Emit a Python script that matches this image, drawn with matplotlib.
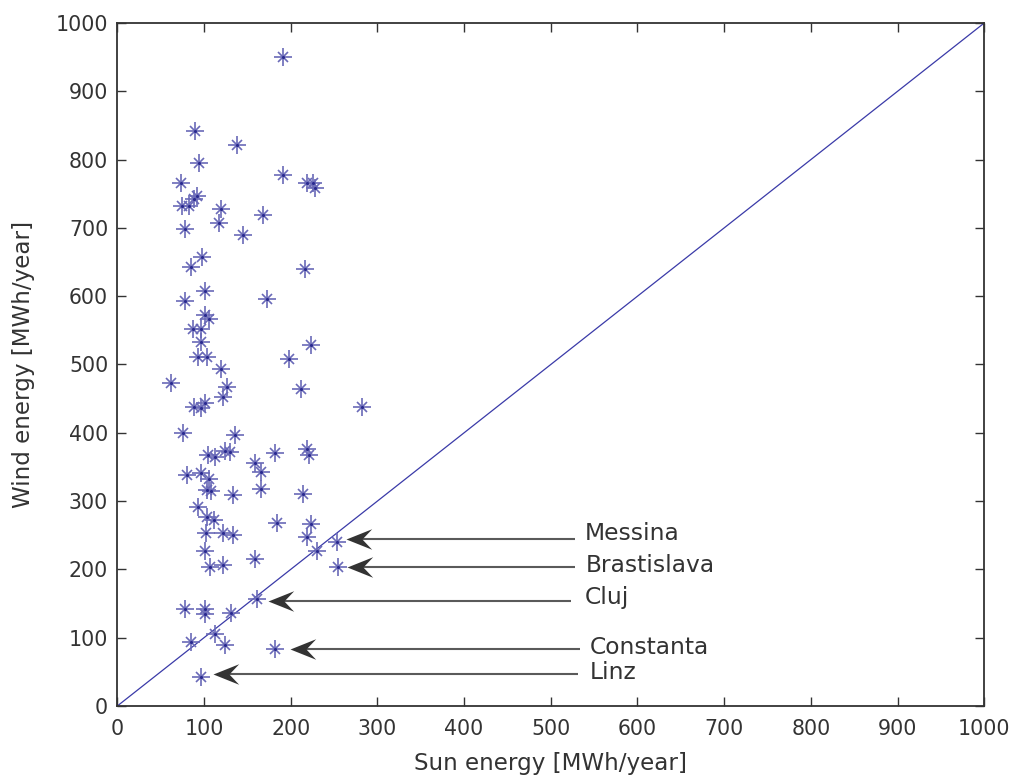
import matplotlib
matplotlib.use("Agg")
import matplotlib.pyplot as plt
from matplotlib.path import Path

plt.rcParams['font.family'] = ['DejaVu Sans']

sun = [191, 89.6, 138, 94, 73.5, 191, 219, 226, 228, 91.6, 88.5, 75, 82.3, 119.6, 168,
       117.3, 77.7, 145, 97.2, 85, 216.5, 101, 77.7, 172.7, 101, 105.8, 87, 97, 97, 224,
       93.5, 103.5, 198, 119.6, 62.3, 126.5, 212, 122, 101, 89, 97, 282, 75.8, 135.4,
       104.6, 112.3, 124, 129.6, 181.5, 219, 221, 158.5, 166, 80.4, 96.2, 105.4, 103.8,
       107.7, 166, 133.5, 214, 93.5, 103.8, 111, 184, 223, 102.6, 122, 133.5, 219, 230.6,
       101.5, 158.5, 107.3, 122, 161.5, 77.7, 101.5, 101.5, 131.5, 84.6, 112.3, 124.6,
       181.5, 97, 254, 255]
wind = [950, 842, 821, 795, 765, 778, 766, 766, 759, 747, 743, 731.6, 731.6, 728, 719,
        707.6, 698, 689, 658, 642, 640, 608, 593, 596, 572.5, 567, 551.5, 551.5, 533, 528.5,
        510.5, 510.5, 508, 493, 472.5, 467.5, 463.7, 453, 443, 438, 436, 438, 400, 396.8,
        367.5, 364, 374, 371.5, 371, 376, 367.5, 356, 342, 338, 340.7, 332, 316,
        315, 317, 309, 311, 291, 276, 273, 268, 266, 253, 253, 250, 247, 227.4,
        227.4, 214.8, 203.5, 206.4, 156, 142, 142, 134, 135.7, 94, 105.4, 89.3,
        83, 42, 239.7, 203]

diag = [0, 1000]

city_names = ['Messina', 'Brastislava', 'Cluj', 'Constanta', 'Linz']
arrow_tip_x = [264, 265.5, 174, 199, 110]
arrow_y = [244.6, 203, 154, 83, 46.4]
arrow_tail_x = [528, 528, 523, 533.7, 531.7]
label_x = [539, 540.6, 539, 544.6, 544.6]
label_y = [253, 206, 159.6, 85, 48.8]

ticks = list(range(0, 1001, 100))

fig = plt.figure(figsize=(10.18, 7.81), dpi=100)
ax = fig.add_axes([0.1152, 0.0960, 0.9669 - 0.1152, 0.9706 - 0.0960])

ax.plot(diag, diag, color='#3a3aa8', lw=0.9, zorder=2)

mc = '#6a6ab8'
ax.plot(sun, wind, ls='none', marker='+', ms=12.5, mew=1.2, color=mc, zorder=3)
ax.plot(sun, wind, ls='none', marker='x', ms=7.8, mew=1.2, color=mc, zorder=3)
ax.plot(sun, wind, ls='none', marker='o', ms=2.2, mew=0, color='#2a2a90', zorder=4)

# stealth-like arrow head pointing left, tip at (0, 0)
head = Path([(0, 0), (1, 0.4), (0.62, 0), (1, -0.4), (0, 0)],
            [Path.MOVETO, Path.LINETO, Path.LINETO, Path.LINETO, Path.CLOSEPOLY])
for name, tx, ay, tl, lx, ly in zip(city_names, arrow_tip_x, arrow_y, arrow_tail_x,
                                     label_x, label_y):
    ax.plot([tx + 10, tl], [ay, ay], color='#5a5a5a', lw=1.5, zorder=5,
            solid_capstyle='butt')
    ax.plot([tx], [ay], ls='none', marker=head, ms=37, color='#333333',
            mew=0, zorder=6)
    ax.text(lx, ly, name, fontsize=16.8, color='#333333', ha='left', va='center')

ax.set_xlim(0, 1000)
ax.set_ylim(0, 1000)
ax.set_xticks(ticks)
ax.set_yticks(ticks)
ax.tick_params(direction='in', length=6.5, width=1, colors='#333333', labelsize=14.8,
               top=True, right=True)
ax.tick_params(axis='x', pad=9)
ax.tick_params(axis='y', pad=6.5)
for s in ax.spines.values():
    s.set_color('#333333')
    s.set_linewidth(1.3)
ax.set_xlabel('Sun energy [MWh/year]', fontsize=16.6, color='#333333', labelpad=10)
ax.set_ylabel('Wind energy [MWh/year]', fontsize=16.6, color='#333333', labelpad=15)

fig.savefig('out.png', dpi=100)
